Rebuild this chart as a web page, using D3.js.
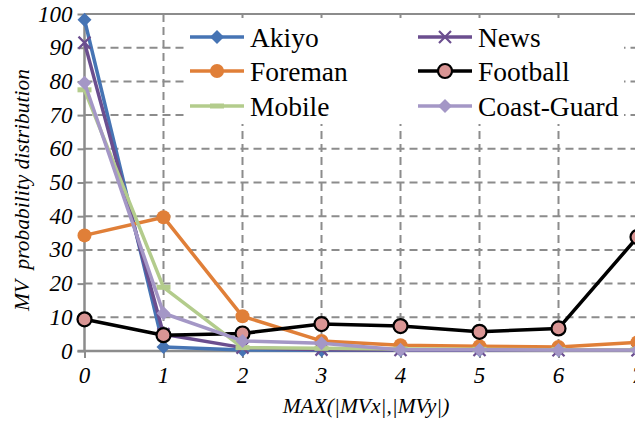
<!DOCTYPE html>
<html><head><meta charset="utf-8">
<script src="https://cdn.jsdelivr.net/npm/d3@7"></script>
</head><body style="margin:0">
<script>
const xValues = [0,1,2,3,4,5,6,7];
const yTicks = [0,10,20,30,40,50,60,70,80,90,100];
const akiyo   = [98.3, 1.2, 0.3, 0.2, 0.2, 0.2, 0.2, 0.2];
const news    = [91.5, 5.0, 1.0, 0.4, 0.3, 0.3, 0.2, 0.2];
const foreman = [34.3, 39.7, 10.3, 3.0, 1.7, 1.4, 1.2, 2.6];
const football= [9.4, 4.7, 5.2, 8.0, 7.4, 5.7, 6.7, 33.8];
const mobile  = [77.5, 18.9, 1.0, 0.8, 0.6, 0.5, 0.4, 0.4];
const coast   = [79.6, 11.2, 3.0, 2.3, 0.4, 0.4, 0.3, 0.3];
const seriesNames = ["Akiyo","News","Foreman","Football","Mobile","Coast-Guard"];

const series = [
  {name:"Akiyo", values:akiyo, color:"#4674B4", marker:"diamond"},
  {name:"News", values:news, color:"#6B4E8F", marker:"x"},
  {name:"Foreman", values:foreman, color:"#E07F38", marker:"circle"},
  {name:"Football", values:football, color:"#000000", marker:"circleOut", fill:"#D99594"},
  {name:"Mobile", values:mobile, color:"#B3CC8C", marker:"dash"},
  {name:"Coast-Guard", values:coast, color:"#A497C6", marker:"diamond"}
];

const W=635,H=424;
const svg=d3.select("body").append("svg").attr("width",W).attr("height",H).style("display","block");
const x=d3.scaleLinear().domain([0,7]).range([84.5,637.5]);
const y=d3.scaleLinear().domain([0,100]).range([351,14]);
const grid="#8c8c8c";
const FONT='"Liberation Serif"';

svg.append("g").selectAll("line").data(yTicks.filter(d=>d>0&&d<100)).join("line")
  .attr("x1",x(0)).attr("x2",W).attr("y1",d=>y(d)).attr("y2",d=>y(d))
  .attr("stroke",grid).attr("stroke-width",2).attr("stroke-dasharray","8,5");
svg.append("g").selectAll("line").data(xValues.filter(d=>d>0)).join("line")
  .attr("x1",d=>x(d)).attr("x2",d=>x(d)).attr("y1",y(100)).attr("y2",y(0))
  .attr("stroke",grid).attr("stroke-width",2).attr("stroke-dasharray","8,5");
svg.append("line").attr("x1",x(0)).attr("x2",W).attr("y1",y(100)).attr("y2",y(100))
  .attr("stroke",grid).attr("stroke-width",2);

// axes (tick marks from d3 axes; labels as texts bound to tick arrays)
const yAxis=d3.axisLeft(y).tickValues(yTicks).tickSize(7).tickFormat("");
const gy=svg.append("g").attr("transform",`translate(${x(0)},0)`).call(yAxis);
gy.select(".domain").attr("stroke",grid).attr("stroke-width",2.5).attr("d",`M-7,${y(0)}H0V${y(100)}`);
gy.selectAll(".tick line").attr("stroke",grid).attr("stroke-width",2);
gy.selectAll(".tick text").remove();
const xAxis=d3.axisBottom(x).tickValues(xValues).tickSize(7).tickFormat("");
const gx=svg.append("g").attr("transform",`translate(0,${y(0)})`).call(xAxis);
gx.select(".domain").attr("stroke",grid).attr("stroke-width",2.5).attr("d",`M${x(0)},0H${W}`);
gx.selectAll(".tick line").attr("stroke",grid).attr("stroke-width",2);
gx.selectAll(".tick text").remove();

svg.selectAll("text.ylab").data(yTicks).join("text").attr("class","ylab")
  .attr("x",x(0)-12).attr("y",d=>y(d)+7.5).attr("text-anchor","end")
  .style("font-family",FONT).style("font-style","italic").attr("font-size",23).text(d=>d);
svg.selectAll("text.xlab").data(xValues).join("text").attr("class","xlab")
  .attr("x",d=>x(d)).attr("y",y(0)+32).attr("text-anchor","middle")
  .style("font-family",FONT).style("font-style","italic").attr("font-size",23).text(d=>d);

svg.append("text").attr("transform",`translate(29,190) rotate(-90)`).attr("text-anchor","middle")
  .style("font-family",FONT).style("font-style","italic").attr("font-size",21.5)
  .style("white-space","pre").text("MV  probability distribution");
svg.append("text").attr("x",366).attr("y",413).attr("text-anchor","middle")
  .style("font-family",FONT).style("font-style","italic").attr("font-size",21.5)
  .text("MAX(|MVx|,|MVy|)");

function drawMarker(g,s,cx,cy){
  if(s.marker==="diamond"){
    g.append("path").attr("d",`M${cx},${cy-7}L${cx+7},${cy}L${cx},${cy+7}L${cx-7},${cy}Z`).attr("fill",s.color);
  } else if(s.marker==="x"){
    g.append("path").attr("d",`M${cx-6},${cy-6}L${cx+6},${cy+6}M${cx-6},${cy+6}L${cx+6},${cy-6}`)
      .attr("stroke",s.color).attr("stroke-width",2.2).attr("fill","none");
  } else if(s.marker==="circle"){
    g.append("circle").attr("cx",cx).attr("cy",cy).attr("r",7).attr("fill",s.color);
  } else if(s.marker==="circleOut"){
    g.append("circle").attr("cx",cx).attr("cy",cy).attr("r",7).attr("fill",s.fill).attr("stroke","#000").attr("stroke-width",2.2);
  } else if(s.marker==="dash"){
    g.append("rect").attr("x",cx-7).attr("y",cy-2.5).attr("width",14).attr("height",5).attr("fill",s.color);
  }
}

const line=d3.line().x((d,i)=>x(xValues[i])).y(d=>y(d));
series.forEach(s=>{
  const g=svg.append("g");
  g.append("path").attr("d",line(s.values)).attr("fill","none").attr("stroke",s.color)
    .attr("stroke-width",3.5).attr("stroke-linejoin","round");
  s.values.forEach((v,i)=>drawMarker(g,s,x(xValues[i]),y(v)));
});

svg.append("rect").attr("x",184).attr("y",18).attr("width",440).attr("height",106).attr("fill","#fff");
const legendPos=[[0,0],[1,0],[0,1],[1,1],[0,2],[1,2]];
const colX=[190,418], rowY=[37,71,106];
series.forEach((s,i)=>{
  const [c,r]=legendPos[i];
  const x0=colX[c], cy=rowY[r];
  svg.append("line").attr("x1",x0).attr("x2",x0+54).attr("y1",cy).attr("y2",cy)
    .attr("stroke",s.color).attr("stroke-width",3.5);
  drawMarker(svg,s,x0+27,cy);
});
svg.selectAll("text.leg").data(seriesNames).join("text").attr("class","leg")
  .attr("x",(d,i)=>colX[legendPos[i][0]]+60).attr("y",(d,i)=>rowY[legendPos[i][1]]+9.5)
  .style("font-family",FONT).attr("font-size",27.5).text(d=>d);
</script>
</body></html>
